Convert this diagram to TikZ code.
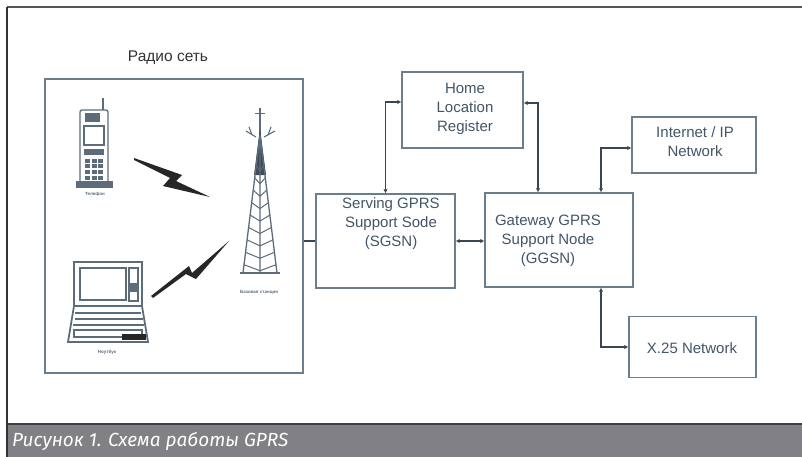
\documentclass[tikz,border=0pt]{standalone}
\usepackage{fontspec}
\setmainfont{Liberation Sans}
\newfontfamily\capfont{Fira Sans}
\usetikzlibrary{arrows.meta}
\definecolor{boxline}{HTML}{6A7E8E}
\definecolor{conncol}{HTML}{3A4652}
\definecolor{txtcol}{HTML}{435568}
\definecolor{devcol}{HTML}{5C6C7A}
\definecolor{capbar}{HTML}{808085}
\definecolor{framecol}{HTML}{555555}
\tikzset{
  netbox/.style={draw=boxline, line width=1.4pt, rectangle, inner sep=0pt, fill=white},
  boxtext/.style={align=center, text=txtcol, font=\fontsize{15}{19}\selectfont},
  conn/.style={draw=conncol, line width=1.6pt, {Latex[length=4pt,width=4.5pt]}-{Latex[length=4pt,width=4.5pt]}},
  plainconn/.style={draw=conncol, line width=1.6pt},
  dev/.style={draw=devcol, line width=1.3pt},
  tiny/.style={font=\fontsize{4.5}{4.5}\selectfont\bfseries, text=devcol},
  bolt/.style={fill=black!85}
}
\begin{document}
\begin{tikzpicture}[x=1pt, y=-1pt]
\useasboundingbox (0,0) rectangle (802,457);
\fill[white] (0,0) rectangle (802,457);

% outer frame and caption bar
\fill[capbar] (7,424) rectangle (802,457);
\draw[black!75, line width=1.5pt] (7,424) -- (802,424);
\draw[framecol, line width=2pt] (7,7) -- (802,7);
\draw[black!80, line width=1.4pt] (7,7) -- (7,457);
\node[anchor=west, text=white, inner sep=0pt] (caption) at (12,441)
  {\capfont\itshape\fontsize{19}{19}\selectfont Рисунок 1. Схема работы GPRS};

% radio network
\node[anchor=south, text=black!80, font=\fontsize{15.5}{15.5}\selectfont] (radiolbl) at (168,68) {Радио сеть};
\node[netbox, fill=none, minimum width=258pt, minimum height=294pt] (radio) at (174,226) {};

% mobile phone
\draw[devcol, line width=1.8pt] (103,111) -- (103,98);
\draw[dev, fill=white, rounded corners=2pt] (80,110) rectangle (108,184);
\fill[devcol] (85,113) rectangle (100,122);
\draw[dev] (84,126) rectangle (104,145);
\fill[devcol] (84,149) rectangle (104,155);
\foreach \i in {0,...,3} {
  \foreach \j in {0,1,2} {
    \fill[devcol] (85+\j*6.5,159+\i*5.5) rectangle (90+\j*6.5,163+\i*5.5);
  }
}
\fill[devcol] (76,181) rectangle (113,188);
\node[tiny] (phonelbl) at (95,194) {Телефон};

% base station tower
\draw[devcol, line width=1.4pt] (260,108) -- (260,140);
\draw[devcol, line width=1.1pt] (246,131) -- (256,137) (264,137) -- (275,131);
\draw[devcol, line width=1.1pt] (249,127) -- (252,135) (271,127) -- (268,135);
\draw[devcol, line width=1pt] (255,114) -- (265,114);
\fill[devcol!70!black] (260,128) -- (266,175) -- (254,175) -- cycle;
\draw[devcol, line width=1.3pt] (260,135) -- (243,273) (260,135) -- (277,273) (260,135) -- (260,273);
\foreach \t in {0.22,0.31,...,1.0} {
  \draw[devcol, line width=1pt]
    (260-17*\t,135+138*\t) -- (260,141+138*\t) -- (260+17*\t,135+138*\t);
}
\draw[devcol, line width=1.2pt] (240,273) -- (280,273);
\node[tiny] (towerlbl) at (259,292) {Базовая станция};

% laptop
\draw[dev, line width=1.8pt, fill=white] (74,262) rectangle (142,306);
\draw[dev, fill=white] (80,268) rectangle (126,300);
\draw[dev] (129,268) rectangle (138,301);
\fill[devcol] (130,283) rectangle (137,292);
\draw[dev, line width=1.8pt, fill=white] (74,306) -- (142,306) -- (148,342) -- (68,342) -- cycle;
\draw[dev] (75,313) -- (141,313) (75,319) -- (143,319) (73,325) -- (144,325);
\draw[dev] (74,330) rectangle (142,337);
\fill[black!85] (122,334) rectangle (146,340);
\node[tiny] (laptoplbl) at (107,352) {Ноутбук};

% radio links
\fill[bolt] (134,158) -- (182,175) -- (176,181) -- (210,197) -- (163,186) -- (170,178) -- (134,160) -- cycle;
\fill[bolt] (151,296) -- (189,266) -- (192,273) -- (229,241) -- (196,279) -- (186,274) -- (153,298) -- cycle;

% core network nodes
\node[netbox, minimum width=139pt, minimum height=94pt] (sgsn) at (385.5,241) {};
\node[boxtext] (sgsntxt) at (391,224) {Serving GPRS\\Support Sode\\(SGSN)};
\node[netbox, minimum width=121pt, minimum height=76pt] (hlr) at (462.5,110) {};
\node[boxtext] (hlrtxt) at (465,109) {Home\\Location\\Register};
\node[netbox, minimum width=148pt, minimum height=94pt] (ggsn) at (559,240) {};
\node[boxtext] (ggsntxt) at (548,241) {Gateway GPRS\\Support Node\\(GGSN)};
\node[netbox, minimum width=124pt, minimum height=56pt] (inet) at (694,145) {};
\node[boxtext] (inettxt) at (695,142) {Internet / IP\\Network};
\node[netbox, minimum width=127pt, minimum height=61pt] (x25) at (692.5,347) {};
\node[boxtext] (x25txt) at (692,348) {X.25 Network};

% links between nodes
\draw[plainconn] (sgsn.west -| radio.east) -- (sgsn.west);
\draw[conn] (sgsn.north) |- ([yshift=8pt]hlr.west);
\draw[conn] ([yshift=7pt]hlr.east) -| ([xshift=-21pt]ggsn.north);
\draw[conn] (sgsn.east) -- (sgsn.east -| ggsn.west);
\draw[conn] ([xshift=42pt]ggsn.north) |- ([yshift=-3pt]inet.west);
\draw[conn] ([xshift=42pt]ggsn.south) |- (x25.west);
\end{tikzpicture}
\end{document}
